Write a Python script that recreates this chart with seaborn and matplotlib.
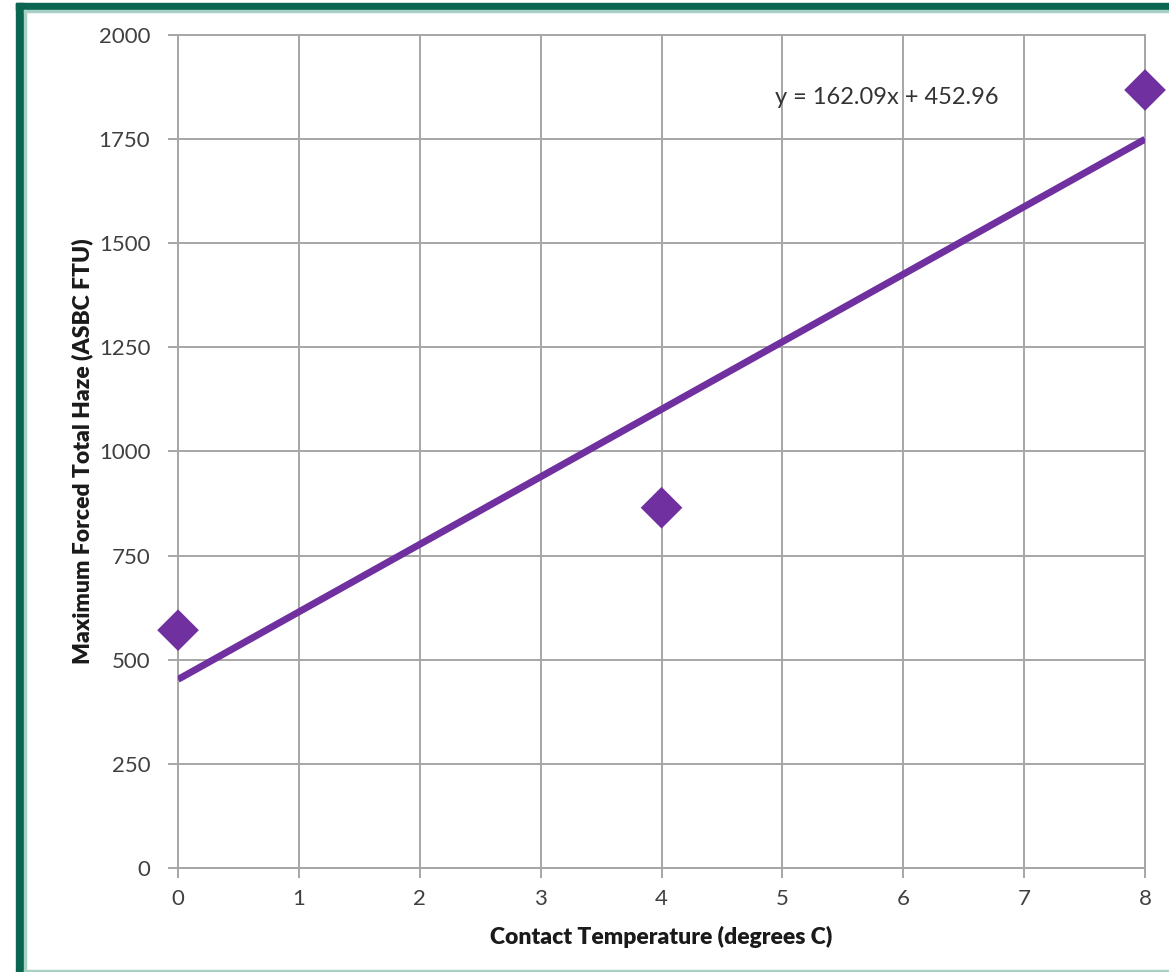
import matplotlib
matplotlib.use("Agg")
import matplotlib.pyplot as plt
import seaborn as sns
import numpy as np
import pandas as pd
from matplotlib.patches import Rectangle

temps = [0, 4, 8]
haze = [571, 865, 1868]
x_ticks = [0, 1, 2, 3, 4, 5, 6, 7, 8]
y_ticks = [0, 250, 500, 750, 1000, 1250, 1500, 1750, 2000]
equation = "y = 162.09x + 452.96"

df = pd.DataFrame({"temp": temps, "haze": haze})

sns.set_theme(style="white")
plt.rcParams['font.family'] = ['Lato', 'DejaVu Sans']

fig = plt.figure(figsize=(11.69, 9.72), dpi=100)
ax = fig.add_axes([0.1523, 0.107, 0.8272, 0.857])

purple = "#7030A0"
sns.regplot(data=df, x="temp", y="haze", scatter=False, ci=None, ax=ax,
            line_kws=dict(color=purple, lw=5, solid_capstyle="butt", zorder=3))
sns.scatterplot(data=df, x="temp", y="haze", marker="D", s=450, color=purple,
                edgecolor="none", ax=ax, zorder=4, clip_on=False)

ax.set_xlim(0, 8)
ax.set_ylim(0, 2000)
ax.set_xticks(x_ticks)
ax.set_yticks(y_ticks)
ax.grid(True, color="#a6a6a6", lw=1.4)
ax.set_axisbelow(True)
for s in ax.spines.values():
    s.set_color("#a6a6a6")
    s.set_linewidth(1.4)
ax.tick_params(axis="both", which="both", length=7, width=1.4, color="#a6a6a6",
               labelsize=16, labelcolor="#404040", bottom=True, left=True)
ax.tick_params(axis="y", pad=13)
ax.tick_params(axis="x", pad=8)

ax.set_xlabel("Contact Temperature (degrees C)", fontsize=16.5, fontweight="heavy",
              color="#1a1a1a", labelpad=12)
ax.set_ylabel("Maximum Forced Total Haze (ASBC FTU)", fontsize=16.5, fontweight="heavy",
              color="#1a1a1a", labelpad=4)

ax.text(4.94, 1849, equation, fontsize=17, color="#333333", ha="left", va="center")

# green frame
fig.patches.append(Rectangle((16/1169, 0), 8/1169, 969/972, transform=fig.transFigure,
                             color="#0a6650", zorder=10))
fig.patches.append(Rectangle((16/1169, (972-10)/972), 1153/1169, 7/972,
                             transform=fig.transFigure, color="#0a6650", zorder=10))
fig.patches.append(Rectangle((24/1169, 0), 2/1169, (972-10)/972, transform=fig.transFigure,
                             color="#a8d0c4", zorder=10))
fig.patches.append(Rectangle((24/1169, (972-12)/972), 1145/1169, 2/972,
                             transform=fig.transFigure, color="#a8d0c4", zorder=10))
fig.patches.append(Rectangle((24/1169, 0), 1145/1169, 2/972,
                             transform=fig.transFigure, color="#a8d0c4", zorder=10))

fig.savefig("out.png", dpi=100)
